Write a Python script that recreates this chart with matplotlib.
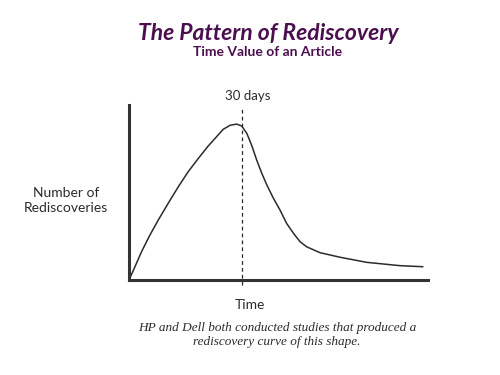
import matplotlib.pyplot as plt

# curve (time units 0-100, rediscoveries 0-100)
time = [0.0, 2.0, 4.2, 7.0, 9.8, 13.1, 16.5, 19.8, 23.2, 26.5, 29.3, 31.5,
        33.8, 36.0, 37.7, 39.4, 41.0, 42.7, 44.4, 46.1, 48.3, 50.5, 52.7,
        55.0, 57.2, 59.4, 63.9, 70.6, 79.5, 90.6, 98.2]
rediscoveries = [0.0, 7.6, 16.2, 25.7, 34.3, 43.8, 53.3, 61.9, 69.5, 76.6,
                 81.9, 86.1, 88.4, 89.1, 88.0, 83.8, 77.1, 68.6, 61.0, 54.3,
                 46.7, 40.0, 32.4, 26.7, 21.9, 19.0, 15.6, 13.0, 10.1, 8.2, 7.6]
peak_time = 37.8
peak_label = '30 days'

title = 'The Pattern of Rediscovery'
subtitle = 'Time Value of an Article'
caption = 'HP and Dell both conducted studies that produced a\nrediscovery curve of this shape.'

purple = '#4b0f4f'
ink = '#2b2b2b'

fig = plt.figure(figsize=(5, 3.75), dpi=100)
ax = fig.add_axes([0.258, 0.2533, 0.598, 0.4667])

ax.plot(time, rediscoveries, color=ink, lw=1.1, solid_joinstyle='round')
ax.plot([peak_time, peak_time], [-3, 98], color=ink, lw=0.9,
        ls=(0, (3, 2.5)), clip_on=False)

ax.set_xlim(0, 100)
ax.set_ylim(0, 100)
ax.set_xticks([])
ax.set_yticks([])
for s in ['top', 'right']:
    ax.spines[s].set_visible(False)
for s in ['left', 'bottom']:
    ax.spines[s].set_linewidth(2.2)
    ax.spines[s].set_color('#333333')

fig.text(0.536, 0.91, title, ha='center', va='center', family='Lato',
         style='italic', weight='bold', fontsize=16.5, color=purple)
fig.text(0.536, 0.862, subtitle, ha='center', va='center', family='Lato',
         weight='bold', fontsize=10, color=purple)
fig.text(0.496, 0.744, peak_label, ha='center', va='center', family='Lato',
         fontsize=9.5, color=ink)
fig.text(0.132, 0.466, 'Number of\nRediscoveries', ha='center', va='center',
         family='Lato', fontsize=10, color=ink, linespacing=1.3)
fig.text(0.5, 0.187, 'Time', ha='center', va='center', family='Lato',
         fontsize=10, color=ink)
fig.text(0.554, 0.106, caption, ha='center', va='center',
         family='Liberation Serif', style='italic', fontsize=9.5, color=ink,
         linespacing=1.2)

fig.savefig('out.png', dpi=100, facecolor='white')
